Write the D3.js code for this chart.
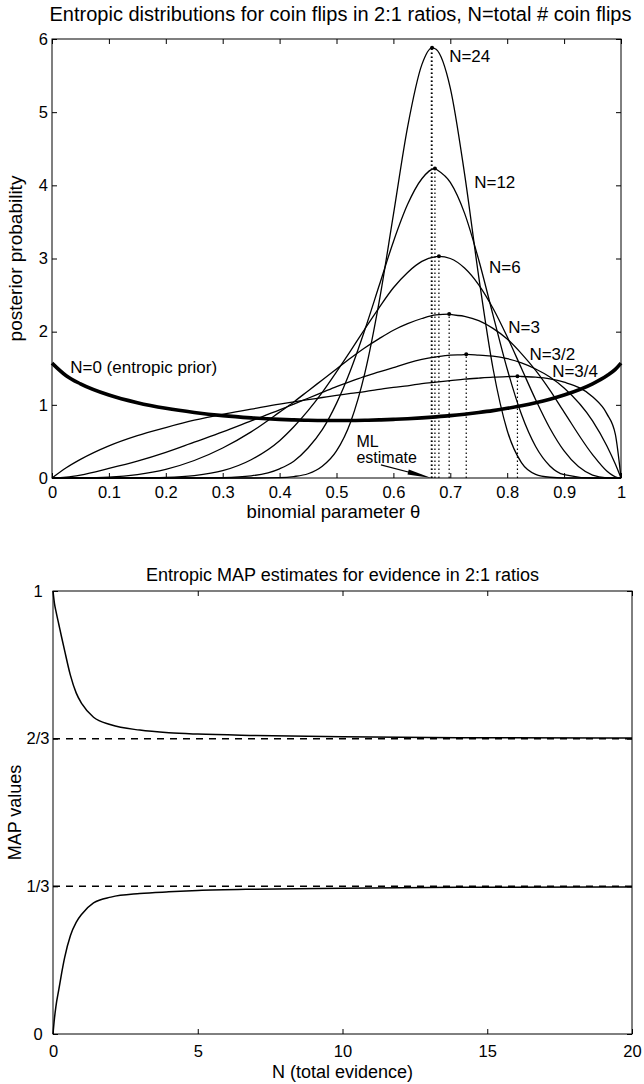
<!DOCTYPE html>
<html>
<head>
<meta charset="utf-8">
<script src="https://cdn.jsdelivr.net/npm/d3@7"></script>
<style>
  body { margin: 0; background: #fff; }
  svg text { font-family: "Liberation Sans", Arial, Helvetica, sans-serif; fill: #000; }
</style>
</head>
<body>
<div id="chart"></div>
<script>
// ---- data ----
// theta grid shared by every posterior curve of the top panel
const thetaGrid = [0, 0.025, 0.05, 0.1, 0.15, 0.2, 0.25, 0.3, 0.35, 0.4, 0.425, 0.45, 0.475, 0.5, 0.525, 0.55, 0.575, 0.6, 0.625, 0.65, 0.675, 0.7, 0.725, 0.75, 0.775, 0.8, 0.825, 0.85, 0.875, 0.9, 0.95, 0.975, 0.99, 1];
const priorN0 = [1.57, 1.397, 1.287, 1.134, 1.029, 0.952, 0.895, 0.852, 0.822, 0.801, 0.794, 0.789, 0.786, 0.785, 0.786, 0.789, 0.794, 0.801, 0.810, 0.822, 0.836, 0.852, 0.872, 0.895, 0.921, 0.952, 0.988, 1.029, 1.077, 1.134, 1.287, 1.397, 1.484, 1.57];
const postN34 = [0, 0.14, 0.255, 0.44, 0.58, 0.69, 0.79, 0.87, 0.94, 1.01, 1.04, 1.07, 1.10, 1.13, 1.157, 1.18, 1.21, 1.24, 1.26, 1.29, 1.31, 1.33, 1.35, 1.365, 1.378, 1.386, 1.387, 1.378, 1.356, 1.31, 1.11, 0.88, 0.60, 0];
const postN32 = [0, 0.011, 0.04, 0.13, 0.23, 0.35, 0.49, 0.63, 0.78, 0.93, 1.01, 1.09, 1.17, 1.25, 1.32, 1.39, 1.45, 1.51, 1.57, 1.62, 1.655, 1.68, 1.686, 1.68, 1.666, 1.63, 1.573, 1.49, 1.38, 1.23, 0.78, 0.44, 0.19, 0];
const postN3 = [0, 0, 0.001, 0.011, 0.046, 0.118, 0.239, 0.41, 0.63, 0.90, 1.04, 1.19, 1.34, 1.49, 1.64, 1.78, 1.905, 2.02, 2.11, 2.18, 2.23, 2.235, 2.21, 2.15, 2.045, 1.90, 1.70, 1.47, 1.20, 0.90, 0.32, 0.096, 0.017, 0];
const postN6 = [0, 0, 0, 0, 0.001, 0.0075, 0.033, 0.10, 0.25, 0.51, 0.70, 0.92, 1.17, 1.45, 1.74, 2.04, 2.33, 2.60, 2.81, 2.96, 3.025, 3.00, 2.87, 2.64, 2.32, 1.93, 1.50, 1.07, 0.68, 0.37, 0.04, 0.003, 0, 0];
const postN12 = [0, 0, 0, 0, 0, 0, 0, 0.005, 0.029, 0.126, 0.23, 0.41, 0.66, 1.02, 1.48, 2.03, 2.63, 3.23, 3.74, 4.09, 4.22, 4.04, 3.62, 2.98, 2.23, 1.49, 0.87, 0.43, 0.165, 0.046, 0, 0, 0, 0];
const postN24 = [0, 0, 0, 0, 0, 0, 0, 0, 0, 0.005, 0.02, 0.058, 0.16, 0.37, 0.77, 1.44, 2.41, 3.60, 4.80, 5.65, 5.86, 5.33, 4.16, 2.75, 1.50, 0.65, 0.21, 0.05, 0.01, 0, 0, 0, 0, 0];

const curveLabels = ["N=3/4", "N=3/2", "N=3", "N=6", "N=12", "N=24"];
const mapTheta = [0.818, 0.728, 0.698, 0.68, 0.673, 0.668];   // MAP of each posterior
const mapPeak = [1.39, 1.69, 2.24, 3.03, 4.23, 5.88];
const mlTheta = 0.6667;
const priorLabel = "N=0 (entropic prior)";

const xTicksTop = [0, 0.1, 0.2, 0.3, 0.4, 0.5, 0.6, 0.7, 0.8, 0.9, 1];
const yTicksTop = [0, 1, 2, 3, 4, 5, 6];

// bottom panel: MAP estimate vs total evidence
const evidenceN = [0, 0.05, 0.1, 0.2, 0.3, 0.4, 0.6, 0.8, 1.0, 1.4, 2, 3, 4, 5, 7, 10, 14, 20];
const mapUpper = [1.0, 0.972, 0.955, 0.925, 0.895, 0.866, 0.81, 0.77, 0.745, 0.715, 0.698, 0.686, 0.68, 0.677, 0.674, 0.671, 0.669, 0.668];
const mapLower = [0, 0.035, 0.062, 0.1, 0.138, 0.172, 0.222, 0.252, 0.271, 0.296, 0.309, 0.317, 0.321, 0.324, 0.327, 0.329, 0.331, 0.332];
const limitLines = [2 / 3, 1 / 3];
const xTicksBottom = [0, 5, 10, 15, 20];
const yTicksBottom = [0, 1 / 3, 2 / 3, 1];
const yTickLabelsBottom = ["0", "1/3", "2/3", "1"];

// ---- layout ----
const W = 644, H = 1084;
const svg = d3.select("#chart").append("svg")
  .attr("width", W)
  .attr("height", H);

const boxTop = { x0: 52, x1: 621, y0: 39, y1: 478 };
const boxBot = { x0: 53, x1: 632, y0: 591, y1: 1034 };

const x = d3.scaleLinear().domain([0, 1]).range([boxTop.x0, boxTop.x1]);
const y = d3.scaleLinear().domain([0, 6]).range([boxTop.y1, boxTop.y0]);
const xb = d3.scaleLinear().domain([0, 20]).range([boxBot.x0, boxBot.x1]);
const yb = d3.scaleLinear().domain([0, 1]).range([boxBot.y1, boxBot.y0]);

// inward ticks on all four sides
function frame(g, sx, sy, xt, yt, ylabels, yAnchor, xPad, yPad) {
  g.append("g").attr("transform", `translate(0,${sy.range()[0]})`)
    .call(d3.axisBottom(sx).tickValues(xt).tickSize(-5).tickPadding(xPad).tickFormat(d3.format("")))
    .call(a => a.select(".domain").remove());
  g.append("g").attr("transform", `translate(0,${sy.range()[1]})`)
    .call(d3.axisTop(sx).tickValues(xt).tickSize(-5).tickFormat(""))
    .call(a => a.select(".domain").remove());
  const left = g.append("g").attr("transform", `translate(${sx.range()[0]},0)`)
    .call(d3.axisLeft(sy).tickValues(yt).tickSize(-5).tickPadding(yPad)
      .tickFormat((d, i) => ylabels ? ylabels[i] : d))
    .call(a => a.select(".domain").remove());
  left.selectAll("text").attr("text-anchor", yAnchor);
  g.append("g").attr("transform", `translate(${sx.range()[1]},0)`)
    .call(d3.axisRight(sy).tickValues(yt).tickSize(-5).tickFormat(""))
    .call(a => a.select(".domain").remove());
  g.selectAll(".tick line").attr("stroke", "#000");
  g.selectAll(".tick text").style("font-size", "16.5px")
    .style("font-family", "'Liberation Sans', Arial, Helvetica, sans-serif");
  g.append("rect")
    .attr("x", sx.range()[0]).attr("y", sy.range()[1])
    .attr("width", sx.range()[1] - sx.range()[0])
    .attr("height", sy.range()[0] - sy.range()[1])
    .attr("fill", "none").attr("stroke", "#000").attr("stroke-width", 1);
}

// ===== top panel =====
const gTop = svg.append("g");

const line = d3.line().x(d => x(d[0])).y(d => y(d[1])).curve(d3.curveMonotoneX);

// dotted MAP / ML verticals
gTop.append("line")
  .attr("x1", x(mlTheta)).attr("x2", x(mlTheta))
  .attr("y1", y(0)).attr("y2", y(mapPeak[5]))
  .attr("stroke", "#000").attr("stroke-width", 1.2).attr("stroke-dasharray", "1.5,2.5");
gTop.selectAll(".mapline")
  .data(mapTheta)
  .enter().append("line")
  .attr("class", "mapline")
  .attr("x1", d => x(d)).attr("x2", d => x(d))
  .attr("y1", y(0)).attr("y2", (d, i) => y(mapPeak[i]))
  .attr("stroke", "#000").attr("stroke-width", 1.2).attr("stroke-dasharray", "1.5,2.5");

// posterior curves (peak point merged into the grid)
const posteriors = [postN34, postN32, postN3, postN6, postN12, postN24];
posteriors.forEach((vals, i) => {
  const pts = thetaGrid.map((t, j) => [t, vals[j]]);
  pts.push([mapTheta[i], mapPeak[i]]);
  pts.sort((a, b) => a[0] - b[0]);
  gTop.append("path")
    .attr("d", line(pts))
    .attr("fill", "none").attr("stroke", "#000").attr("stroke-width", 1.3);
});

// entropic prior, thick
gTop.append("path")
  .attr("d", line(thetaGrid.map((t, j) => [t, priorN0[j]])))
  .attr("fill", "none").attr("stroke", "#000").attr("stroke-width", 3.6);

// peak dots
gTop.selectAll(".peak")
  .data(mapTheta)
  .enter().append("circle")
  .attr("cx", d => x(d)).attr("cy", (d, i) => y(mapPeak[i]))
  .attr("r", 2).attr("fill", "#000");

frame(gTop, x, y, xTicksTop, yTicksTop, null, "end", 8, 4);

// curve labels
const labelPos = [[0.879, 1.38], [0.839, 1.61], [0.802, 1.98], [0.768, 2.80], [0.742, 3.97], [0.698, 5.68]];
gTop.selectAll(".clabel")
  .data(curveLabels)
  .enter().append("text")
  .attr("x", (d, i) => x(labelPos[i][0]))
  .attr("y", (d, i) => y(labelPos[i][1]))
  .style("font-size", "17px")
  .text(d => d);

gTop.append("text")
  .attr("x", x(0.032)).attr("y", y(1.43))
  .style("font-size", "17px")
  .text(priorLabel);

gTop.append("text").attr("x", x(0.535)).attr("y", y(0.42))
  .style("font-size", "16px").text("ML");
gTop.append("text").attr("x", x(0.535)).attr("y", y(0.2))
  .style("font-size", "16px").text("estimate");

// arrow to the ML estimate
const ax0 = x(0.578), ay0 = y(0.18), ax1 = x(mlTheta), ay1 = y(0);
const len = Math.hypot(ax1 - ax0, ay1 - ay0);
const ux = (ax1 - ax0) / len, uy = (ay1 - ay0) / len;
gTop.append("line")
  .attr("x1", ax0).attr("y1", ay0).attr("x2", ax1 - ux * 10).attr("y2", ay1 - uy * 10)
  .attr("stroke", "#000").attr("stroke-width", 1.2);
const hb = 24, hw = 2.6;
gTop.append("path")
  .attr("d", `M${ax1},${ay1}L${ax1 - ux * hb - uy * hw},${ay1 - uy * hb + ux * hw}L${ax1 - ux * hb + uy * hw},${ay1 - uy * hb - ux * hw}Z`)
  .attr("fill", "#000");

// titles and axis labels
svg.append("text")
  .attr("x", (boxTop.x0 + boxTop.x1) / 2 + 4).attr("y", 21)
  .attr("text-anchor", "middle").style("font-size", "20px")
  .text("Entropic distributions for coin flips in 2:1 ratios, N=total # coin flips");
svg.append("text")
  .attr("x", (boxTop.x0 + boxTop.x1) / 2 - 3).attr("y", 518)
  .attr("text-anchor", "middle").style("font-size", "18.5px")
  .text("binomial parameter \u03b8");
svg.append("text")
  .attr("transform", `translate(22,${(boxTop.y0 + boxTop.y1) / 2}) rotate(-90)`)
  .attr("text-anchor", "middle").style("font-size", "19px")
  .text("posterior probability");

// ===== bottom panel =====
const gBot = svg.append("g");
const lineB = d3.line().x(d => xb(d[0])).y(d => yb(d[1])).curve(d3.curveMonotoneX);

gBot.selectAll(".limit")
  .data(limitLines)
  .enter().append("line")
  .attr("x1", xb(0)).attr("x2", xb(20))
  .attr("y1", d => yb(d)).attr("y2", d => yb(d))
  .attr("stroke", "#000").attr("stroke-width", 1.5).attr("stroke-dasharray", "7,6");

[mapUpper, mapLower].forEach(vals => {
  gBot.append("path")
    .attr("d", lineB(evidenceN.map((n, j) => [n, vals[j]])))
    .attr("fill", "none").attr("stroke", "#000").attr("stroke-width", 1.5);
});

frame(gBot, xb, yb, xTicksBottom, yTicksBottom, yTickLabelsBottom, "middle", 11, 15);

svg.append("text")
  .attr("x", (boxBot.x0 + boxBot.x1) / 2).attr("y", 581)
  .attr("text-anchor", "middle").style("font-size", "18px")
  .text("Entropic MAP estimates for evidence in 2:1 ratios");
svg.append("text")
  .attr("x", (boxBot.x0 + boxBot.x1) / 2).attr("y", 1078)
  .attr("text-anchor", "middle").style("font-size", "18px")
  .text("N (total evidence)");
svg.append("text")
  .attr("transform", `translate(21,${(boxBot.y0 + boxBot.y1) / 2}) rotate(-90)`)
  .attr("text-anchor", "middle").style("font-size", "18px")
  .text("MAP values");
</script>
</body>
</html>
